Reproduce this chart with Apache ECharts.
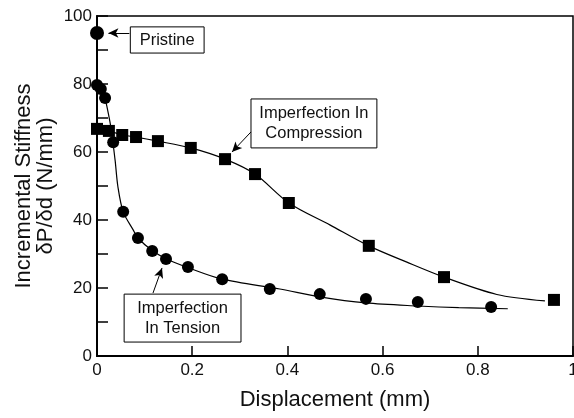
<!DOCTYPE html>
<html>
<head>
<meta charset="utf-8">
<script src="https://cdn.jsdelivr.net/npm/echarts@6/dist/echarts.min.js"></script>
<style>
  html, body { margin: 0; padding: 0; background: #fff; }
  #chart { width: 574px; height: 418px; }
</style>
</head>
<body>
<div id="chart"></div>
<script>
  // points: [displacement mm, stiffness N/mm]
  const pristine = [[0, 95.0]]
  const tensionPts = [
    [0, 79.7], [0.008, 78.5], [0.017, 75.9], [0.034, 62.9], [0.055, 42.4],
    [0.086, 34.7], [0.116, 30.9], [0.145, 28.5], [0.191, 26.2], [0.263, 22.6],
    [0.363, 19.7], [0.468, 18.2], [0.565, 16.8], [0.674, 15.9], [0.828, 14.4]
  ]
  const compressionPts = [
    [0, 66.8], [0.025, 66.2], [0.053, 65.0], [0.082, 64.4], [0.128, 63.2],
    [0.197, 61.2], [0.269, 57.9], [0.332, 53.5], [0.403, 45.0], [0.571, 32.4],
    [0.729, 23.2], [0.960, 16.5]
  ]
  // fitted curves as drawn in the figure
  const tensionFit = [
    [0.017, 75.9], [0.029, 67.4], [0.038, 57.6], [0.044, 49.7], [0.055, 42.4],
    [0.076, 37.1], [0.086, 34.7], [0.116, 31.0], [0.145, 28.6], [0.191, 26.0],
    [0.263, 22.6], [0.384, 19.7], [0.468, 17.4], [0.565, 15.6], [0.674, 14.7],
    [0.76, 14.2], [0.863, 13.9]
  ]
  const compressionFit = [
    [0, 66.8], [0.025, 66.2], [0.053, 65.0], [0.082, 64.4], [0.128, 63.2],
    [0.197, 61.2], [0.269, 57.9], [0.332, 53.5], [0.403, 45.0], [0.49, 38.5],
    [0.571, 32.4], [0.651, 27.6], [0.729, 23.2], [0.84, 18.1], [0.941, 16.2]
  ]
  // annotation boxes [[x1, y1], [x2, y2]] and arrows [from, to]
  const boxPristine = [[0.07, 96.8], [0.225, 89.1]]
  const boxCompression = [[0.3235, 75.6], [0.588, 61.2]]
  const boxTension = [[0.057, 18.2], [0.3025, 4.1]]
  const arrowPristine = [[0.068, 95.0], [0.024, 95.0]]
  const arrowCompression = [[0.3235, 65.9], [0.2836, 60.0]]
  const arrowTension = [[0.1176, 18.5], [0.1366, 25.9]]

  const font = 'Liberation Sans, Arial, Helvetica, sans-serif'
  const chart = echarts.init(document.getElementById('chart'))

  function box(c, text) {
    return [{
      coord: c[0],
      label: { formatter: text }
    }, {
      coord: c[1]
    }]
  }
  function arrow(a) {
    return [{ coord: a[0], symbol: 'none' }, { coord: a[1], symbol: 'arrow' }]
  }

  chart.setOption({
    animation: false,
    textStyle: { fontFamily: font },
    grid: {
      left: 97, right: 1, top: 16, bottom: 62,
      outerBoundsMode: 'none',
      containLabel: false,
      show: true, borderColor: '#000', borderWidth: 1.5
    },
    xAxis: {
      type: 'value',
      min: 0, max: 1, interval: 0.2,
      name: 'Displacement (mm)',
      nameLocation: 'middle',
      nameGap: 33,
      nameMoveOverlap: false,
      nameTextStyle: { fontSize: 22, color: '#111', fontFamily: font },
      axisLine: { lineStyle: { color: '#000', width: 2 } },
      axisTick: { inside: true, length: 10, lineStyle: { color: '#000', width: 1.5 } },
      axisLabel: { fontSize: 17, color: '#111', margin: 6 },
      splitLine: { show: false }
    },
    yAxis: {
      type: 'value',
      min: 0, max: 100, interval: 10,
      name: 'Incremental Stiffness\nδP/δd (N/mm)',
      nameLocation: 'middle',
      nameGap: 40,
      nameMoveOverlap: false,
      nameTextStyle: { fontSize: 22, lineHeight: 22, color: '#111', align: 'center', fontFamily: font },
      axisLine: { lineStyle: { color: '#000', width: 2 } },
      axisTick: { inside: true, length: 11, lineStyle: { color: '#000', width: 1.5 } },
      axisLabel: {
        fontSize: 17, color: '#111', margin: 5,
        formatter: v => (v % 20 === 0 ? String(v) : '')
      },
      splitLine: { show: false }
    },
    series: [
      {
        name: 'Tension fit',
        type: 'line',
        data: tensionFit,
        smooth: 0.3,
        showSymbol: false,
        lineStyle: { color: '#000', width: 1.2 }
      },
      {
        name: 'Compression fit',
        type: 'line',
        data: compressionFit,
        smooth: 0.3,
        showSymbol: false,
        lineStyle: { color: '#000', width: 1.2 }
      },
      {
        name: 'Imperfection In Tension',
        type: 'scatter',
        data: tensionPts,
        symbol: 'circle',
        symbolSize: 12,
        itemStyle: { color: '#000', opacity: 1 }
      },
      {
        name: 'Imperfection In Compression',
        type: 'scatter',
        data: compressionPts,
        symbol: 'rect',
        symbolSize: 12,
        itemStyle: { color: '#000', opacity: 1 }
      },
      {
        name: 'Pristine',
        type: 'scatter',
        data: pristine,
        symbol: 'circle',
        symbolSize: 14,
        itemStyle: { color: '#000', opacity: 1 },
        markArea: {
          silent: true,
          itemStyle: { color: '#fff', borderColor: '#000', borderWidth: 1, opacity: 1 },
          label: {
            position: 'inside', color: '#111', fontSize: 16.5, lineHeight: 20,
            align: 'center', fontFamily: font
          },
          data: [
            box(boxPristine, 'Pristine'),
            box(boxCompression, 'Imperfection In\nCompression'),
            box(boxTension, 'Imperfection\nIn Tension')
          ]
        },
        markLine: {
          silent: true,
          symbolSize: [7, 10],
          label: { show: false },
          lineStyle: { color: '#000', width: 1, type: 'solid', opacity: 1 },
          data: [arrow(arrowPristine), arrow(arrowCompression), arrow(arrowTension)]
        }
      }
    ]
  })
</script>
</body>
</html>
